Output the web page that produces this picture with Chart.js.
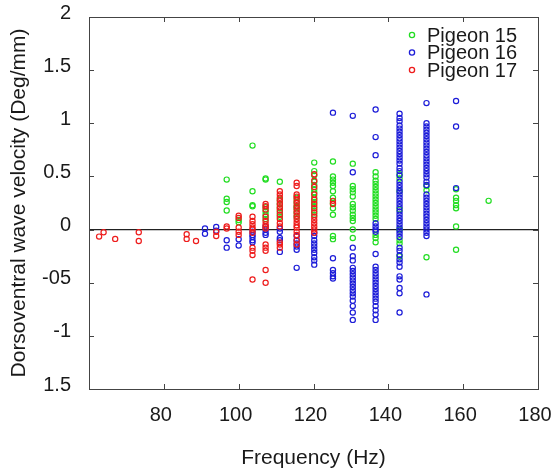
<!DOCTYPE html>
<html>
<head>
<meta charset="utf-8">
<script src="https://cdn.jsdelivr.net/npm/chart.js@4"></script>
<style>
  html, body { margin: 0; padding: 0; background: #fff; }
</style>
</head>
<body>
<canvas id="chart" width="555" height="475"></canvas>
<script>
// each entry: [frequency (Hz), velocities measured at that frequency]
const pigeon15 = [
  [96.8, [0.47, 0.29, 0.26, 0.18]],
  [100, [0.09, 0.07]],
  [103.7, [0.79, 0.36, 0.23, 0.22]],
  [107.2, [0.48, 0.47, 0.21, 0.17, 0.14, 0.1]],
  [111, [0.45, 0.28, 0.24, 0.2, 0.16, 0.12]],
  [115.5, [0.3, 0.26, 0.22, 0.2, 0.16, 0.12]],
  [120.2, [0.63, 0.55, 0.51, 0.45, 0.42, 0.38, 0.35, 0.3, 0.26, 0.22, 0.18, 0.14]],
  [125.2, [0.64, 0.5, 0.47, 0.44, 0.41, 0.36, 0.3, 0.25, 0.2, 0.14, -0.06, -0.09]],
  [130.5, [0.62, 0.41, 0.38, 0.35, 0.31, 0.24, 0.21, 0.18, 0.14, 0.11, 0.08, 0.0, -0.08]],
  [136.6, [0.54, 0.5, 0.46, 0.43, 0.4, 0.37, 0.34, 0.31, 0.28, 0.25, 0.22, 0.19, 0.16, 0.13, 0.1, -0.05, -0.08, -0.12]],
  [143, [0.52, 0.48, 0.36, 0.19, 0.0, -0.1, -0.13, -0.25]],
  [150.2, [0.41, 0.37, -0.26]],
  [158.1, [0.38, 0.3, 0.27, 0.23, 0.2, 0.03, -0.19]],
  [166.8, [0.27]],
];

const pigeon16 = [
  [91, [0.01, -0.04]],
  [94, [0.025, -0.01]],
  [96.8, [-0.1, -0.17]],
  [100, [-0.09, -0.15]],
  [103.7, [-0.02, -0.05, -0.07, -0.1, -0.12]],
  [107.2, [0.03, 0.0, -0.03, -0.05]],
  [111, [0.01, -0.02, -0.08, -0.1, -0.21]],
  [115.5, [-0.06, -0.1, -0.13, -0.16, -0.19, -0.36]],
  [120.2, [-0.03, -0.06, -0.1, -0.13, -0.16, -0.19, -0.22, -0.26, -0.29, -0.33]],
  [125.2, [1.1, -0.27, -0.38, -0.41, -0.44, -0.46]],
  [130.5, [1.07, 0.54, -0.17, -0.25, -0.29, -0.36, -0.39, -0.42, -0.45, -0.48, -0.51, -0.54, -0.57, -0.6, -0.63, -0.67, -0.72, -0.78, -0.85]],
  [136.6, [1.13, 0.87, 0.7, 0.06, 0.03, 0.0, -0.02, -0.23, -0.35, -0.38, -0.41, -0.44, -0.47, -0.5, -0.53, -0.56, -0.59, -0.62, -0.65, -0.68, -0.72, -0.76, -0.8, -0.85]],
  [143, [1.09, 1.05, 1.02, 0.98, 0.95, 0.92, 0.89, 0.86, 0.83, 0.8, 0.77, 0.74, 0.71, 0.68, 0.65, 0.62, 0.58, 0.55, 0.51, 0.45, 0.42, 0.39, 0.36, 0.33, 0.3, 0.27, 0.24, 0.21, 0.17, 0.14, 0.11, 0.08, 0.05, 0.02, -0.01, -0.04, -0.07, -0.17, -0.2, -0.24, -0.28, -0.31, -0.35, -0.44, -0.47, -0.55, -0.6, -0.78]],
  [150.2, [1.19, 1.0, 0.97, 0.94, 0.91, 0.88, 0.85, 0.82, 0.79, 0.76, 0.73, 0.7, 0.67, 0.64, 0.61, 0.58, 0.55, 0.52, 0.49, 0.45, 0.42, 0.33, 0.3, 0.27, 0.24, 0.21, 0.18, 0.15, 0.12, 0.09, 0.06, 0.03, 0.0, -0.03, -0.06, -0.61]],
  [158.1, [1.21, 0.97, 0.39]],
];

const pigeon17 = [
  [62.7, [-0.066]],
  [63.9, [-0.025]],
  [67, [-0.088]],
  [73.3, [-0.025, -0.107]],
  [86.1, [-0.044, -0.088]],
  [88.6, [-0.107]],
  [94, [-0.02, -0.06]],
  [96.8, [0.03, 0.01]],
  [100, [0.13, 0.11, 0.02, -0.02, -0.05]],
  [103.7, [0.12, 0.08, 0.05, 0.02, 0.0, -0.03, -0.17, -0.2, -0.24, -0.47]],
  [107.2, [0.24, 0.22, 0.19, 0.12, 0.08, 0.05, 0.03, 0.01, -0.14, -0.17, -0.2, -0.38, -0.5]],
  [111, [0.36, 0.33, 0.3, 0.27, 0.24, 0.21, 0.18, 0.14, 0.1, 0.06, 0.03, -0.12, -0.14, -0.17]],
  [115.5, [0.44, 0.41, 0.33, 0.31, 0.28, 0.25, 0.22, 0.19, 0.16, 0.13, 0.1, 0.07, 0.04, 0.02, -0.02, -0.05, -0.1, -0.14]],
  [120.2, [0.52, 0.46, 0.4, 0.33, 0.28, 0.24, 0.2, 0.16, 0.12, 0.09, 0.06, 0.03, 0.0, -0.03]],
  [125.2, [0.27, 0.24]],
];

const seriesNames = ['Pigeon 15', 'Pigeon 16', 'Pigeon 17'];
const seriesColors = ['#22dd22', '#1c1cd8', '#ee1c1c'];
// red is painted over blue, blue over green
const seriesOrder = [2, 1, 0];

// tick labels as printed in the figure (bottom to top for y)
const xTickLabels = ['', '80', '100', '120', '140', '160', '180'];
const yTickLabels = ['1.5', '-1', '-05', '0', '0.5', '1', '1.5', '2'];

const FONT = 'Liberation Sans, Arial, sans-serif';
const INK = '#1a1a1a';

const toPoints = (columns) =>
  columns.flatMap(([freq, values]) => values.map((v) => ({ x: freq, y: v })));

// keep the plot box fixed: no extra room for overhanging tick labels
const fixBox = (size) => (s) => {
  if (s.isHorizontal()) {
    s.height = size;
  } else {
    s.width = size;
  }
  s.paddingLeft = 0;
  s.paddingRight = 0;
  s.paddingTop = 0;
  s.paddingBottom = 0;
};

const frame = {
  id: 'frame',
  beforeDatasetsDraw(chart) {
    const { ctx, chartArea: a, scales } = chart;
    const y0 = scales.y.getPixelForValue(0);
    ctx.save();
    ctx.strokeStyle = '#222';
    ctx.lineWidth = 1.3;
    ctx.beginPath();
    ctx.moveTo(a.left, y0);
    ctx.lineTo(a.right, y0);
    ctx.stroke();
    ctx.restore();
  },
  afterDraw(chart) {
    const { ctx, chartArea: a, scales } = chart;
    const len = 5;
    ctx.save();
    ctx.strokeStyle = '#444';
    ctx.lineWidth = 1;
    ctx.strokeRect(a.left + 0.5, a.top + 0.5, a.right - a.left, a.bottom - a.top);

    ctx.beginPath();
    scales.x.ticks.forEach((t) => {
      if (t.value <= scales.x.min || t.value >= scales.x.max) {
        return;
      }
      const px = Math.round(scales.x.getPixelForValue(t.value)) + 0.5;
      ctx.moveTo(px, a.bottom);
      ctx.lineTo(px, a.bottom - len);
      ctx.moveTo(px, a.top);
      ctx.lineTo(px, a.top + len);
    });
    scales.y.ticks.forEach((t) => {
      if (t.value <= scales.y.min || t.value >= scales.y.max) {
        return;
      }
      const py = Math.round(scales.y.getPixelForValue(t.value)) + 0.5;
      ctx.moveTo(a.left, py);
      ctx.lineTo(a.left + len, py);
      ctx.moveTo(a.right, py);
      ctx.lineTo(a.right - len, py);
    });
    ctx.stroke();

    // legend inside the top right corner
    ctx.font = `20px ${FONT}`;
    ctx.textBaseline = 'middle';
    ctx.textAlign = 'left';
    chart.data.datasets.forEach((ds, i) => {
      const mx = a.right - 126;
      const my = a.top + 18 + i * 17.5;
      ctx.strokeStyle = ds.borderColor;
      ctx.lineWidth = 1.3;
      ctx.beginPath();
      ctx.arc(mx, my, 2.6, 0, Math.PI * 2);
      ctx.stroke();
      ctx.fillStyle = INK;
      ctx.fillText(ds.label, mx + 15, my + 1);
    });
    ctx.restore();
  },
};

const datasets = [pigeon15, pigeon16, pigeon17].map((cols, i) => ({
  label: seriesNames[i],
  data: toPoints(cols),
  order: seriesOrder[i],
  borderColor: seriesColors[i],
  backgroundColor: 'rgba(0,0,0,0)',
  pointRadius: 2.6,
  pointBorderWidth: 1.2,
  pointHoverRadius: 2.6,
}));

new Chart(document.getElementById('chart'), {
  type: 'scatter',
  data: { datasets },
  options: {
    responsive: false,
    animation: false,
    devicePixelRatio: 1,
    layout: { padding: { top: 17, right: 17, left: 0, bottom: 0 } },
    plugins: {
      legend: { display: false },
      tooltip: { enabled: false },
    },
    scales: {
      x: {
        type: 'linear',
        min: 60,
        max: 180,
        afterFit: fixBox(86),
        ticks: {
          stepSize: 20,
          padding: 14,
          labelOffset: -3,
          color: INK,
          font: { family: FONT, size: 20 },
          callback: (v, i) => xTickLabels[i] ?? '',
        },
        grid: { drawOnChartArea: false, drawTicks: false },
        border: { display: false },
        title: {
          display: true,
          text: 'Frequency (Hz)',
          color: INK,
          font: { family: FONT, size: 21 },
          padding: { top: 0, bottom: 4 },
        },
      },
      y: {
        min: -1.5,
        max: 2,
        afterFit: fixBox(89),
        ticks: {
          stepSize: 0.5,
          padding: 18,
          labelOffset: -4,
          color: INK,
          font: { family: FONT, size: 20 },
          callback: (v, i) => yTickLabels[i] ?? '',
        },
        grid: { drawOnChartArea: false, drawTicks: false },
        border: { display: false },
        title: {
          display: true,
          text: 'Dorsoventral wave velocity (Deg/mm)',
          color: INK,
          font: { family: FONT, size: 21 },
          padding: { top: 7, bottom: 0 },
        },
      },
    },
  },
  plugins: [frame],
});
</script>
</body>
</html>
